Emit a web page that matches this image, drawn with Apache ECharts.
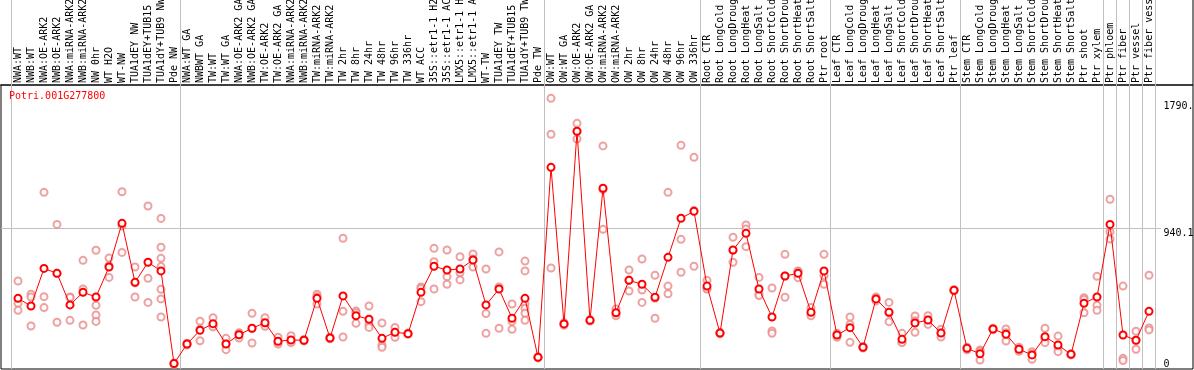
<!DOCTYPE html>
<html><head><meta charset="utf-8">
<script src="https://cdn.jsdelivr.net/npm/echarts@6/dist/echarts.min.js"></script>
<style>html,body{margin:0;padding:0;background:#fff}#c{width:1194px;height:370px}</style>
</head><body><div id="c"></div>
<script>
const geneName = 'Potri.001G277800';
const categories = [
'NWA:WT','NWB:WT','NWA:OE-ARK2','NWB:OE-ARK2','NWA:miRNA-ARK2','NWB:miRNA-ARK2','NW 0hr','WT H2O','WT-NW','TUA1dEY NW','TUA1dEY+TUB15 NW','TUA1dY+TUB9 NW','Pde NW',
'NWA:WT GA','NWBWT GA','TW:WT','TW:WT GA','NWA:OE-ARK2 GA','NWB:OE-ARK2 GA','TW:OE-ARK2','TW:OE-ARK2 GA','NWA:miRNA-ARK2 GA','NWB:miRNA-ARK2 GA','TW:miRNA-ARK2','TW:miRNA-ARK2 GA',
'TW 2hr','TW 8hr','TW 24hr','TW 48hr','TW 96hr','TW 336hr','WT ACC','35S::etr1-1 H2O','35S::etr1-1 ACC','LMX5::etr1-1 H2O','LMX5::etr1-1 ACC','WT-TW','TUA1dEY TW','TUA1dEY+TUB15 TW','TUA1dY+TUB9 TW','Pde TW',
'OW:WT','OW:WT GA','OW:OE-ARK2','OW:OE-ARK2 GA','OW:miRNA-ARK2','OW:miRNA-ARK2 GA','OW 2hr','OW 8hr','OW 24hr','OW 48hr','OW 96hr','OW 336hr',
'Root CTR','Root LongCold','Root LongDrought','Root LongHeat','Root LongSalt','Root ShortCold','Root ShortDrought','Root ShortHeat','Root ShortSalt','Ptr root',
'Leaf CTR','Leaf LongCold','Leaf LongDrought','Leaf LongHeat','Leaf LongSalt','Leaf ShortCold','Leaf ShortDrought','Leaf ShortHeat','Leaf ShortSalt','Ptr leaf',
'Stem CTR','Stem LongCold','Stem LongDrought','Stem LongHeat','Stem LongSalt','Stem ShortCold','Stem ShortDrought','Stem ShortHeat','Stem ShortSalt','Ptr shoot','Ptr xylem',
'Ptr phloem','Ptr fiber','Ptr vessel','Ptr fiber vessel'
];
const groupStarts = [0, 13, 41, 53, 63, 73, 84, 85, 86, 87];
const means = [
472,421,672,639,428,512,481,681,973,579,713,655,36,
167,258,303,167,229,272,309,185,194,192,472,207,
488,356,332,205,245,236,512,686,661,668,728,428,534,339,472,78,
1347,301,1588,325,1207,376,592,566,479,746,1007,1053,
554,240,795,906,534,347,621,639,379,655,
227,276,145,468,379,198,307,327,240,526,
138,102,267,232,132,94,216,160,98,439,481,
966,227,192,385
];
const replicates = [
[588,439,392],[499,481,287],[1180,483,410],[966,639,312],[481,478,325],[726,534,294],[793,425,361,318],[741,690,612],[1184,956,779],[681,575,481],[1089,606,445],[1006,813,739,684,532,468,347],[40,36,32],
[172,167,160],[319,266,189],[343,285,281],[205,167,129],[240,240,207],[372,270,174],[343,299,285],[212,176,167],[222,184,176],[197,192,187],[499,483,434],[212,207,202],
[873,385,214],[387,376,305],[421,298,278],[307,160,145],[278,245,212],[240,236,232],[548,538,450],[806,717,534],[795,617,566],[750,643,595],[768,735,681],[668,370,238],[782,548,272],[434,318,265],[721,655,434,405,372,325],[82,78,74],
[1808,1568,675],[310,301,292],[1641,1587,1536],[330,325,320],[1490,1198,933],[401,371,356],[661,594,521],[735,528,445],[626,472,339],[1180,554,503],[1494,866,646],[1414,1059,686],
[592,536,534],[245,240,235],[880,792,713],[962,935,817],[612,499,491],[541,254,238],[766,621,479],[655,652,610],[410,372,355],[766,623,566],
[238,227,212],[347,298,178],[150,145,140],[481,468,455],[445,376,316],[238,180,176],[354,322,245],[356,327,298],[266,240,214],[530,526,522],
[145,138,128],[127,119,60],[272,267,262],[267,242,187],[145,132,118],[116,101,65],[272,200,176],[220,144,116],[102,98,94],[476,465,376],[619,425,392],
[1134,917,868],[554,71,56],[252,192,132],[626,274,261]
];
const yTickValues = [0, 940.1, 1790];
const yTickLabels = ['0', '940.1', '1790.'];
const gridValue = 940.1;
const yMax = 1897;

const mono = 'DejaVu Sans Mono';
const sepColor = '#c0c0c0';
const isSep = (idx) => groupStarts.indexOf(idx) >= 0;

const repData = [];
replicates.forEach((r, i) => r.forEach(v => repData.push([i, v])));

const chart = echarts.init(document.getElementById('c'), null, {renderer: 'canvas'});
chart.setOption({
  animation: false,
  backgroundColor: '#fff',
  title: {text: geneName, left: 9, top: 91, padding: 0,
    textStyle: {color: '#ff0000', fontSize: 10, fontFamily: mono, fontWeight: 'normal'}},
  grid: [
    {left: 11.5, right: 38.5, top: 85, bottom: 1, outerBoundsMode: 'none', containLabel: false},
    {left: 11.5, right: 38.5, top: 0, height: 85, outerBoundsMode: 'none', containLabel: false},
    {left: -1, right: 1, top: -1, height: 86, show: true, borderColor: '#000', borderWidth: 1, backgroundColor: 'transparent', outerBoundsMode: 'none'},
    {left: 1, right: 1, top: 85, bottom: 1, show: true, borderColor: '#000', borderWidth: 1, backgroundColor: 'transparent', outerBoundsMode: 'none'},
    {left: 1, right: 33, top: 85, bottom: 1, outerBoundsMode: 'none'}
  ],
  xAxis: [
    {type: 'category', gridIndex: 0, data: categories, position: 'top', boundaryGap: true,
      axisLine: {show: false}, axisTick: {show: false},
      axisLabel: {interval: 0, rotate: 90, margin: 2, fontSize: 10, fontFamily: mono, color: '#000', hideOverlap: false},
      splitLine: {show: true, interval: (i) => isSep(i), lineStyle: {color: sepColor, width: 1}}},
    {type: 'category', gridIndex: 1, data: categories, boundaryGap: true,
      axisLine: {show: false}, axisTick: {show: false}, axisLabel: {show: false},
      splitLine: {show: true, interval: (i) => isSep(i), lineStyle: {color: sepColor, width: 1}}},
    {type: 'value', gridIndex: 2, show: false, min: 0, max: 1},
    {type: 'value', gridIndex: 3, show: false, min: 0, max: 1},
    {type: 'value', gridIndex: 4, min: 0, max: 1, axisLine: {show: false}, axisTick: {show: false}, axisLabel: {show: false}, splitLine: {show: false}}
  ],
  yAxis: [
    {type: 'value', gridIndex: 0, min: 0, max: yMax, position: 'right',
      axisLine: {show: false}, axisTick: {show: false}, splitLine: {show: false},
      axisLabel: {customValues: yTickValues, margin: 8, align: 'left', verticalAlign: 'top',
        verticalAlignMinLabel: 'bottom',
        fontSize: 10, fontFamily: mono, color: '#000',
        formatter: (v) => { const k = yTickValues.indexOf(v); return k >= 0 ? yTickLabels[k] : ''; }}},
    {type: 'value', gridIndex: 1, show: false, min: 0, max: 1},
    {type: 'value', gridIndex: 2, show: false, min: 0, max: 1},
    {type: 'value', gridIndex: 3, show: false, min: 0, max: 1},
    {type: 'value', gridIndex: 4, min: 0, max: yMax, interval: gridValue,
      axisLine: {show: false}, axisTick: {show: false}, axisLabel: {show: false},
      splitLine: {show: true, lineStyle: {color: ['transparent', sepColor, 'transparent', 'transparent'], width: 1}}}
  ],
  series: [
    {type: 'scatter', xAxisIndex: 0, yAxisIndex: 0, data: repData, symbol: 'emptyCircle', symbolSize: 7,
      itemStyle: {color: '#e98a8a', borderColor: '#e98a8a', borderWidth: 1}, z: 3},
    {type: 'line', xAxisIndex: 0, yAxisIndex: 0, data: means, symbol: 'emptyCircle', symbolSize: 7, showAllSymbol: true,
      itemStyle: {color: '#ff0000', borderColor: '#ff0000', borderWidth: 1.5},
      lineStyle: {color: '#ff0000', width: 1}, z: 4}
  ]
});
</script></body></html>
